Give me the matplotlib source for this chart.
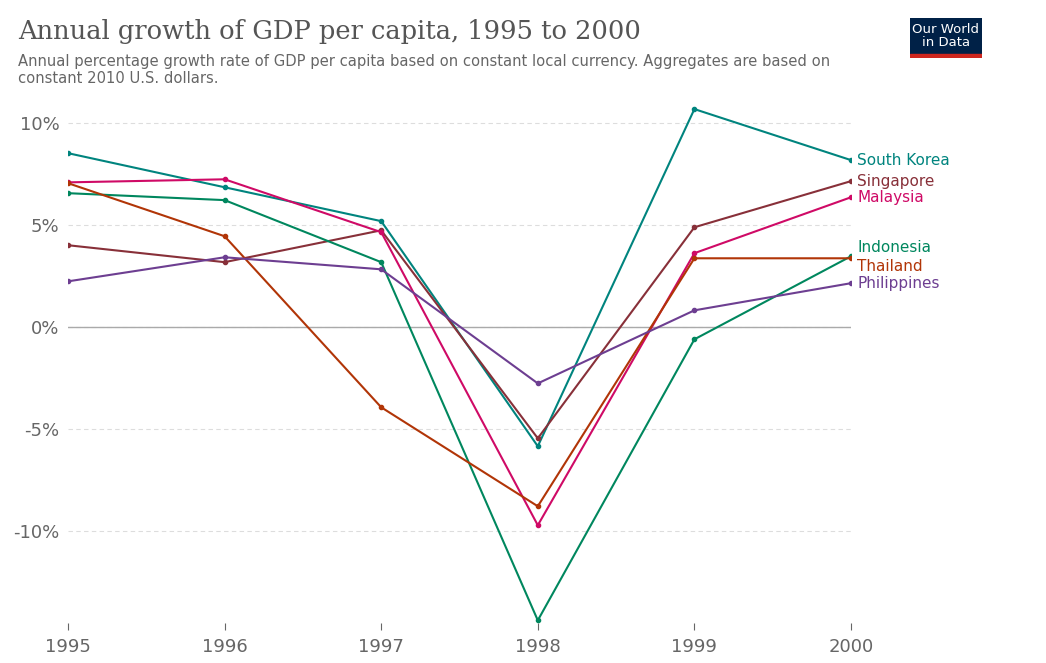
import matplotlib.pyplot as plt

years = [1995, 1996, 1997, 1998, 1999, 2000]
south_korea = [8.53, 6.86, 5.2, -5.83, 10.69, 8.19]
singapore = [4.02, 3.19, 4.75, -5.44, 4.9, 7.16]
malaysia = [7.1, 7.25, 4.66, -9.7, 3.63, 6.37]
indonesia = [6.57, 6.23, 3.19, -14.36, -0.59, 3.48]
thailand = [7.06, 4.46, -3.92, -8.77, 3.38, 3.38]
philippines = [2.25, 3.43, 2.84, -2.75, 0.83, 2.16]

series = [
    ("South Korea", south_korea, "#00847e", 8.19),
    ("Singapore", singapore, "#883039", 7.16),
    ("Malaysia", malaysia, "#cf0a66", 6.37),
    ("Indonesia", indonesia, "#00875e", 3.9),
    ("Thailand", thailand, "#b13507", 3.0),
    ("Philippines", philippines, "#6d3e91", 2.16),
]

fig = plt.figure(figsize=(10.46, 6.63), dpi=100)
ax = fig.add_axes([68 / 1046, 0.060, (851 - 68) / 1046, 0.785])

for name, vals, color, ly in series:
    ax.plot(years, vals, color=color, lw=1.5, marker="o", ms=3, zorder=3)
    ax.text(2000.04, ly, name, color=color, fontsize=11, va="center")

ax.set_xlim(1995, 2000)
ax.set_ylim(-14.5, 11)
ax.set_yticks([-10, -5, 0, 5, 10])
ax.set_yticklabels(["-10%", "-5%", "0%", "5%", "10%"])
ax.set_xticks(years)
ax.tick_params(axis="y", length=0, labelsize=13, colors="#666666", pad=6)
ax.tick_params(axis="x", length=5, labelsize=13, colors="#666666", pad=6)
ax.grid(axis="y", color="#dddddd", linestyle=(0, (4, 3)), lw=0.8)
ax.axhline(0, color="#aaaaaa", lw=1, zorder=2)
for s in ax.spines.values():
    s.set_visible(False)

fig.text(18 / 1046, 1 - 32 / 663, "Annual growth of GDP per capita, 1995 to 2000",
         fontsize=18.5, family="DejaVu Serif", color="#555555", va="center")
fig.text(18 / 1046, 1 - 70 / 663,
         "Annual percentage growth rate of GDP per capita based on constant local currency. Aggregates are based on\nconstant 2010 U.S. dollars.",
         fontsize=10.6, color="#666666", va="center", linespacing=1.1)

logo = fig.add_axes([910 / 1046, 1 - 58 / 663, 72 / 1046, 40 / 663])
logo.set_facecolor("#002147")
logo.set_xticks([])
logo.set_yticks([])
for s in logo.spines.values():
    s.set_visible(False)
logo.text(0.5, 0.55, "Our World\nin Data", color="white", fontsize=9.5,
          ha="center", va="center", transform=logo.transAxes, linespacing=1.0)
logo.axhspan(0, 0.1, color="#ce261e", transform=logo.transAxes)
logo.set_ylim(0, 1)

fig.savefig("out.png", dpi=100)
